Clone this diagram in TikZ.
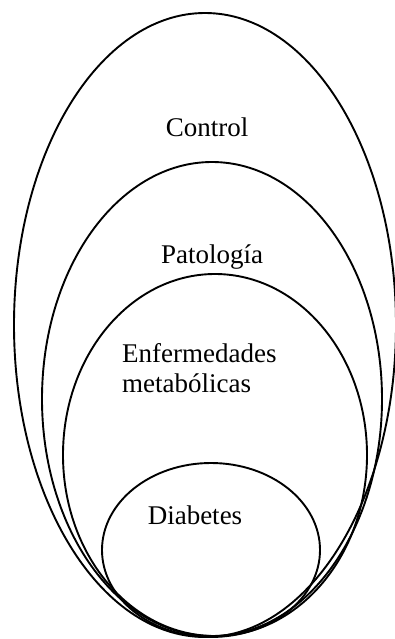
\documentclass[tikz,border=0pt]{standalone}
\usepackage{fontspec}
\setmainfont{Liberation Serif}
\begin{document}
\begin{tikzpicture}[x=1pt,y=-1pt,
  ring/.style={draw=black,line width=1.9pt},
  lbl/.style={font=\fontsize{27}{30}\selectfont,inner sep=0pt}]
\useasboundingbox (0,0) rectangle (395,639);
\path[ring] (205,325) ellipse [x radius=191, y radius=312];
\path[ring] (212,399) ellipse [x radius=170, y radius=237];
\path[ring] (215,455) ellipse [x radius=152, y radius=181];
\path[ring] (211,550) ellipse [x radius=109, y radius=87];
\node[lbl] (control) at (207,127) {Control};
\node[lbl] (patologia) at (212,257) {Patología};
\node[lbl,align=left,anchor=west] (enf) at (122,368) {Enfermedades\\metabólicas};
\node[lbl] (diabetes) at (195,515) {Diabetes};
\end{tikzpicture}
\end{document}
